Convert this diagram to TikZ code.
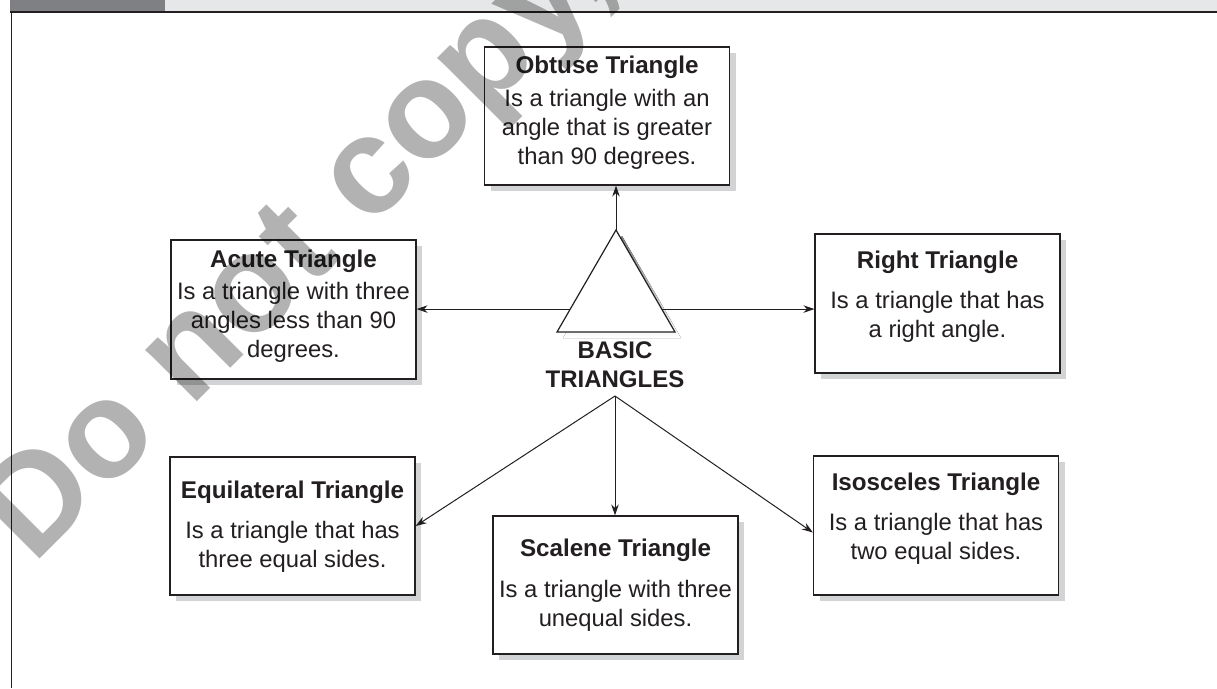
\documentclass[tikz,border=0pt]{standalone}
\usepackage{fontspec}
\setmainfont{Liberation Sans}
\usetikzlibrary{arrows.meta,calc,shadows}
\definecolor{ink}{HTML}{231F20}
\definecolor{shade}{HTML}{D1D3D4}
\definecolor{tabdark}{HTML}{7F8083}
\definecolor{tablight}{HTML}{E6E7E8}
\tikzset{
  conceptbox/.style={draw=ink, line width=1.2pt, fill=white, text=ink,
    minimum width=245pt, inner sep=0pt, anchor=base,
    general shadow={fill=shade, shadow xshift=6pt, shadow yshift=-6pt}},
  hubtext/.style={text=ink, inner sep=0pt, anchor=base, font=\fontsize{24}{29}\selectfont\bfseries},
  link/.style={draw=ink, line width=1pt, -{Stealth[length=11pt,width=7.5pt]}},
  stamp/.style={text=black, text opacity=0.3, inner sep=0pt, anchor=base west,
    font=\fontsize{138}{138}\selectfont\bfseries}
}
\newcommand{\cbox}[1]{\begin{tabular}[t]{@{}c@{}}#1\end{tabular}}
\newcommand{\ttl}[1]{{\fontsize{24.2}{29}\selectfont\bfseries #1}}
\begin{document}
\begin{tikzpicture}[x=1pt, y=-1pt, font=\fontsize{23.8}{29}\selectfont]
\useasboundingbox (0,0) rectangle (1217,688);
\fill[white] (0,0) rectangle (1217,688);

% header strip and frame
\fill[tabdark] (10,0) rectangle (165,11);
\fill[tablight] (165,0) rectangle (1217,11);
\draw[ink, line width=1.4pt] (10,12) -- (1217,12);
\draw[ink, line width=1pt] (11,12) -- (11,688);

% central triangle with its offset shade
\coordinate (apex) at (616,230);
\coordinate (bl) at (557,332);
\coordinate (br) at (675,332);
\fill[shade] ([shift={(6,6)}]apex) -- ([shift={(6,6)}]bl) -- ([shift={(6,6)}]br) -- cycle;
\draw[ink, line width=1.2pt, fill=white] (apex) -- (bl) -- (br) -- cycle;
\coordinate (tl) at ($(apex)!0.775!(bl)$);
\coordinate (tr) at ($(apex)!0.775!(br)$);

\node[hubtext] (basic) at (615,358) {\cbox{BASIC\\TRIANGLES}};
\coordinate (hub) at (615,396);

% concept boxes
\node[conceptbox, text height=26pt, text depth=112pt] (obtuse) at (607,73)
  {\cbox{\ttl{Obtuse Triangle}\\[4pt] Is a triangle with an\\ angle that is greater\\ than 90 degrees.}};
\node[conceptbox, text height=27pt, text depth=112pt] (acute) at (293.5,267)
  {\cbox{\ttl{Acute Triangle}\\[3pt] Is a triangle with three\\ angles less than 90\\ degrees.}};
\node[conceptbox, text height=34pt, text depth=105pt] (right) at (937.5,268)
  {\cbox{\ttl{Right Triangle}\\[11pt] Is a triangle that has\\ a right angle.}};
\node[conceptbox, text height=41pt, text depth=97pt] (equi) at (292.5,498)
  {\cbox{\ttl{Equilateral Triangle}\\[11pt] Is a triangle that has\\ three equal sides.}};
\node[conceptbox, text height=40pt, text depth=98pt] (scalene) at (615.5,556)
  {\cbox{\ttl{Scalene Triangle}\\[12pt] Is a triangle with three\\ unequal sides.}};
\node[conceptbox, text height=34pt, text depth=105pt] (isos) at (936,490)
  {\cbox{\ttl{Isosceles Triangle}\\[11pt] Is a triangle that has\\ two equal sides.}};

% connectors
\draw[link] (apex) -- (apex |- obtuse.south);
\draw[link] (tl) -- (acute.east |- tl);
\draw[link] (tr) -- (right.west |- tr);
\draw[link] (hub) -- (equi.east);
\draw[link] (hub) -- (hub |- scalene.north);
\draw[link] (hub) -- ([yshift=-7pt]isos.west);

% stamp across the sheet
\node[stamp, rotate=45] (stampline) at (33,566) {Do not copy, post, or distribute};
\end{tikzpicture}
\end{document}
